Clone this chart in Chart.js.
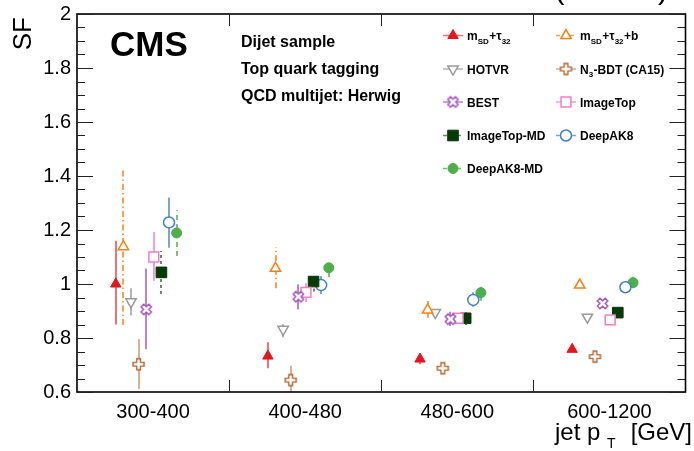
<!DOCTYPE html>
<html>
<head>
<meta charset="utf-8">
<script src="https://cdn.jsdelivr.net/npm/chart.js@4.4.1/dist/chart.umd.min.js"></script>
<style>
html, body { margin: 0; padding: 0; background: #fff; }
canvas { display: block; }
</style>
</head>
<body>
<canvas id="render" width="694" height="451"></canvas>
<script>
const binLabels = ['300-400', '400-480', '480-600', '600-1200'];

// SF per pT bin, with upper / lower edge of the uncertainty bar
const sfMsdTau32  = [1.000, 0.733, 0.722, 0.758];
const hiMsdTau32  = [1.160, 0.784, 0.743, 0.768];
const loMsdTau32  = [0.850, 0.688, 0.703, 0.748];

const sfMsdTau32b = [1.138, 1.058, 0.904, 0.996];
const hiMsdTau32b = [1.425, 1.136, 0.937, 1.004];
const loMsdTau32b = [0.848, 0.984, 0.875, 0.988];

const sfHotvr     = [0.934, 0.832, 0.894, 0.877];
const hiHotvr     = [0.984, 0.852, 0.900, 0.883];
const loHotvr     = [0.883, 0.803, 0.888, 0.871];

const sfN3Bdt     = [0.703, 0.644, 0.688, 0.731];
const hiN3Bdt     = [0.795, 0.697, 0.695, 0.738];
const loN3Bdt     = [0.611, 0.597, 0.681, 0.724];

const sfBest      = [0.906, 0.953, 0.870, 0.928];
const hiBest      = [1.057, 0.999, 0.897, 0.938];
const loBest      = [0.758, 0.906, 0.844, 0.918];

const sfImageTop  = [1.100, 0.969, 0.873, 0.867];
const hiImageTop  = [1.193, 1.003, 0.893, 0.874];
const loImageTop  = [1.012, 0.933, 0.853, 0.860];

const sfImageTopMD = [1.043, 1.009, 0.873, 0.894];
const hiImageTopMD = [1.122, 1.040, 0.895, 0.902];
const loImageTopMD = [0.963, 0.972, 0.848, 0.884];

const sfDeepAK8   = [1.228, 0.996, 0.941, 0.988];
const hiDeepAK8   = [1.320, 1.030, 0.969, 0.996];
const loDeepAK8   = [1.134, 0.963, 0.916, 0.980];

const sfDeepAK8MD = [1.189, 1.060, 0.968, 1.005];
const hiDeepAK8MD = [1.273, 1.089, 0.996, 1.027];
const loDeepAK8MD = [1.104, 1.025, 0.938, 0.984];

const FONT = '"Liberation Sans", Arial, sans-serif';

// open plus / open x markers (ROOT style) as little canvases
function openCross(color, rot) {
    const c = document.createElement('canvas');
    c.width = 15; c.height = 15;
    const g = c.getContext('2d');
    g.translate(7.5, 7.5);
    g.rotate(rot);
    const s = 5.5, a = 1.9;
    const pts = [[-a,-s],[a,-s],[a,-a],[s,-a],[s,a],[a,a],[a,s],[-a,s],[-a,a],[-s,a],[-s,-a],[-a,-a]];
    g.beginPath();
    pts.forEach((p, k) => k ? g.lineTo(p[0], p[1]) : g.moveTo(p[0], p[1]));
    g.closePath();
    g.fillStyle = '#fff';
    g.fill();
    g.strokeStyle = color;
    g.lineWidth = 1.4;
    g.stroke();
    return c;
}

const series = [
    {label: 'msd', sf: sfMsdTau32, hi: hiMsdTau32, lo: loMsdTau32, color: '#e8141b', err: 'rgba(232,20,27,0.6)',
     style: 'triangle', radius: 6, fill: true, dash: []},
    {label: 'msdb', sf: sfMsdTau32b, hi: hiMsdTau32b, lo: loMsdTau32b, color: '#ff7f0e', err: 'rgba(255,127,14,0.75)',
     style: 'triangle', radius: 6, fill: false, dash: [6, 3, 1.5, 3]},
    {label: 'HOTVR', sf: sfHotvr, hi: hiHotvr, lo: loHotvr, color: '#9a9a9a', err: 'rgba(150,150,150,0.7)',
     style: 'triangle', rotation: 180, radius: 6, fill: false, dash: []},
    {label: 'n3', sf: sfN3Bdt, hi: hiN3Bdt, lo: loN3Bdt, color: '#b0652a', err: 'rgba(190,125,80,0.6)',
     style: openCross('#b0652a', 0), radius: 6, fill: false, dash: []},
    {label: 'BEST', sf: sfBest, hi: hiBest, lo: loBest, color: '#a24fc0', err: 'rgba(162,79,192,0.7)',
     style: openCross('#a24fc0', Math.PI / 4), radius: 6, fill: false, dash: []},
    {label: 'ImageTop', sf: sfImageTop, hi: hiImageTop, lo: loImageTop, color: '#f77cc4', err: 'rgba(247,124,196,0.75)',
     style: 'rect', radius: 7, fill: false, dash: []},
    {label: 'ImageTop-MD', sf: sfImageTopMD, hi: hiImageTopMD, lo: loImageTopMD, color: '#063a06', err: 'rgba(40,90,40,0.7)',
     style: 'rect', radius: 7.5, fill: true, dash: [3, 3]},
    {label: 'DeepAK8', sf: sfDeepAK8, hi: hiDeepAK8, lo: loDeepAK8, color: '#3f80c8', err: 'rgba(63,128,200,0.7)',
     style: 'circle', radius: 5.5, fill: false, dash: []},
    {label: 'DeepAK8-MD', sf: sfDeepAK8MD, hi: hiDeepAK8MD, lo: loDeepAK8MD, color: '#4caf4a', err: 'rgba(76,175,74,0.75)',
     style: 'circle', radius: 5, fill: true, dash: [5, 4]}
];

const legendText = [
    [['m'], ['SD', 1], ['+τ'], ['32', 1]],
    [['m'], ['SD', 1], ['+τ'], ['32', 1], ['+b']],
    [['HOTVR']],
    [['N'], ['3', 1], ['-BDT (CA15)']],
    [['BEST']],
    [['ImageTop']],
    [['ImageTop-MD']],
    [['DeepAK8']],
    [['DeepAK8-MD']]
];

// marker i sits at 0.255 + 0.05*i inside its bin
const binPos = (bin, i) => bin + 0.255 + 0.05 * i;

const datasets = series.map((s, i) => ({
    label: s.label,
    data: s.sf.map((v, j) => ({x: binPos(j, i), y: v})),
    pointStyle: s.style,
    pointRadius: s.radius,
    pointRotation: s.rotation || 0,
    pointBorderColor: s.color,
    pointBackgroundColor: s.fill ? s.color : '#fff',
    pointBorderWidth: s.fill ? 1 : 1.5,
    showLine: false
}));

const errorBars = {
    id: 'errorBars',
    beforeDatasetsDraw(chart) {
        const {ctx, chartArea: a, scales: {x, y}} = chart;
        ctx.save();
        ctx.beginPath();
        ctx.rect(a.left, a.top, a.right - a.left, a.bottom - a.top);
        ctx.clip();
        series.forEach((s, i) => {
            ctx.strokeStyle = s.err;
            ctx.lineWidth = 2;
            ctx.setLineDash(s.dash);
            s.sf.forEach((v, j) => {
                const px = Math.round(x.getPixelForValue(binPos(j, i)));
                ctx.beginPath();
                ctx.moveTo(px, y.getPixelForValue(s.lo[j]));
                ctx.lineTo(px, y.getPixelForValue(s.hi[j]));
                ctx.stroke();
            });
        });
        ctx.restore();
    }
};

function drawRich(ctx, parts, x, y) {
    parts.forEach(p => {
        const sub = p[1];
        ctx.font = (sub ? 'bold 8px ' : 'bold 12px ') + FONT;
        ctx.fillText(p[0], x, sub ? y + 3.5 : y);
        x += ctx.measureText(p[0]).width + (sub ? 0.5 : 0);
    });
}

const decorations = {
    id: 'decorations',
    afterDraw(chart) {
        const {ctx, chartArea: a, scales: {x, y}} = chart;
        ctx.save();

        // frame
        ctx.strokeStyle = '#000';
        ctx.lineWidth = 1.6;
        ctx.strokeRect(a.left, a.top, a.right - a.left, a.bottom - a.top);

        // inward ticks on y (left and right)
        ctx.lineWidth = 1;
        ctx.strokeStyle = '#222';
        for (let k = 0; k <= 28; k++) {
            const v = 0.6 + k * 0.05;
            const py = Math.round(y.getPixelForValue(v)) + 0.5;
            const len = (k % 4 === 0) ? 16 : 8;
            ctx.beginPath();
            ctx.moveTo(a.left, py); ctx.lineTo(a.left + len, py);
            ctx.moveTo(a.right, py); ctx.lineTo(a.right - len, py);
            ctx.stroke();
        }
        // bin edges on x (top and bottom)
        for (let b = 1; b < binLabels.length; b++) {
            const px = Math.round(x.getPixelForValue(b)) + 0.5;
            ctx.beginPath();
            ctx.moveTo(px, a.bottom); ctx.lineTo(px, a.bottom - 12);
            ctx.moveTo(px, a.top); ctx.lineTo(px, a.top + 12);
            ctx.stroke();
        }

        ctx.fillStyle = '#000';
        ctx.textBaseline = 'alphabetic';

        // CMS label and sample text
        ctx.font = 'bold 35px ' + FONT;
        ctx.fillText('CMS', 110, 56);
        ctx.font = 'bold 16px ' + FONT;
        ctx.fillText('Dijet sample', 241, 47);
        ctx.fillText('Top quark tagging', 241, 74);
        ctx.fillText('QCD multijet: Herwig', 241, 101);

        // lumi text, mostly cropped above the picture
        ctx.font = '30px ' + FONT;
        ctx.textAlign = 'right';
        ctx.fillText('(13 TeV)', 668, -1);

        // y title
        ctx.save();
        ctx.translate(31, 17);
        ctx.rotate(-Math.PI / 2);
        ctx.font = '26px ' + FONT;
        ctx.textAlign = 'right';
        ctx.fillText('SF', 0, 0);
        ctx.restore();

        // x title with subscript
        ctx.textAlign = 'left';
        ctx.font = '24px ' + FONT;
        ctx.fillText('jet p', 555, 440);
        ctx.font = '14px ' + FONT;
        ctx.fillText('T', 607, 448);
        ctx.font = '24px ' + FONT;
        ctx.textAlign = 'right';
        ctx.fillText('[GeV]', 692, 440);
        ctx.textAlign = 'left';

        // legend
        const cols = [443, 556];
        const rows = [35.5, 69, 102, 135.5, 168.5];
        series.forEach((s, i) => {
            const lx = cols[i % 2];
            const ly = rows[Math.floor(i / 2)];
            ctx.strokeStyle = s.err;
            ctx.lineWidth = 1.5;
            ctx.setLineDash(s.dash.length ? [4, 3] : []);
            ctx.beginPath();
            ctx.moveTo(lx, ly); ctx.lineTo(lx + 20, ly);
            ctx.stroke();
            ctx.setLineDash([]);
            ctx.fillStyle = s.fill ? s.color : '#fff';
            ctx.strokeStyle = s.color;
            ctx.lineWidth = s.fill ? 1 : 1.5;
            if (Chart.helpers && Chart.helpers.drawPoint) {
                Chart.helpers.drawPoint(ctx, {
                    pointStyle: s.style,
                    radius: s.radius,
                    rotation: s.rotation || 0,
                    borderWidth: ctx.lineWidth
                }, lx + 10, ly);
            }
            ctx.fillStyle = '#000';
            drawRich(ctx, legendText[i], lx + 24, ly + 4.5);
        });

        ctx.restore();
    }
};

// fixed axis sizes, no extra label padding so the frame lands where the reference has it
function fixBox(scale, w, h) {
    if (w) scale.width = w;
    if (h) scale.height = h;
    scale.paddingLeft = 0;
    scale.paddingRight = 0;
    scale.paddingTop = 0;
    scale.paddingBottom = 0;
}

const ctx = document.getElementById('render');
new Chart(ctx, {
    type: 'scatter',
    data: {datasets: datasets},
    options: {
        responsive: false,
        animation: false,
        events: [],
        layout: {padding: {top: 14, right: 4, left: 0, bottom: 0}},
        plugins: {legend: {display: false}, tooltip: {enabled: false}},
        scales: {
            x: {
                type: 'linear',
                min: 0,
                max: 4,
                afterBuildTicks: scale => {
                    scale.ticks = binLabels.map((l, k) => ({value: k + 0.5}));
                },
                afterFit: scale => fixBox(scale, 0, 59),
                grid: {display: false, drawTicks: false},
                border: {display: false},
                ticks: {
                    color: '#000',
                    font: {family: FONT, size: 20},
                    padding: 8,
                    maxRotation: 0,
                    callback: v => binLabels[Math.floor(v)]
                }
            },
            y: {
                min: 0.6,
                max: 2,
                afterFit: scale => fixBox(scale, 77, 0),
                grid: {display: false, drawTicks: false},
                border: {display: false},
                ticks: {
                    stepSize: 0.2,
                    color: '#000',
                    font: {family: FONT, size: 20},
                    padding: 6,
                    callback: v => Math.round(v * 10) / 10
                }
            }
        }
    },
    plugins: [errorBars, decorations]
});
</script>
</body>
</html>
